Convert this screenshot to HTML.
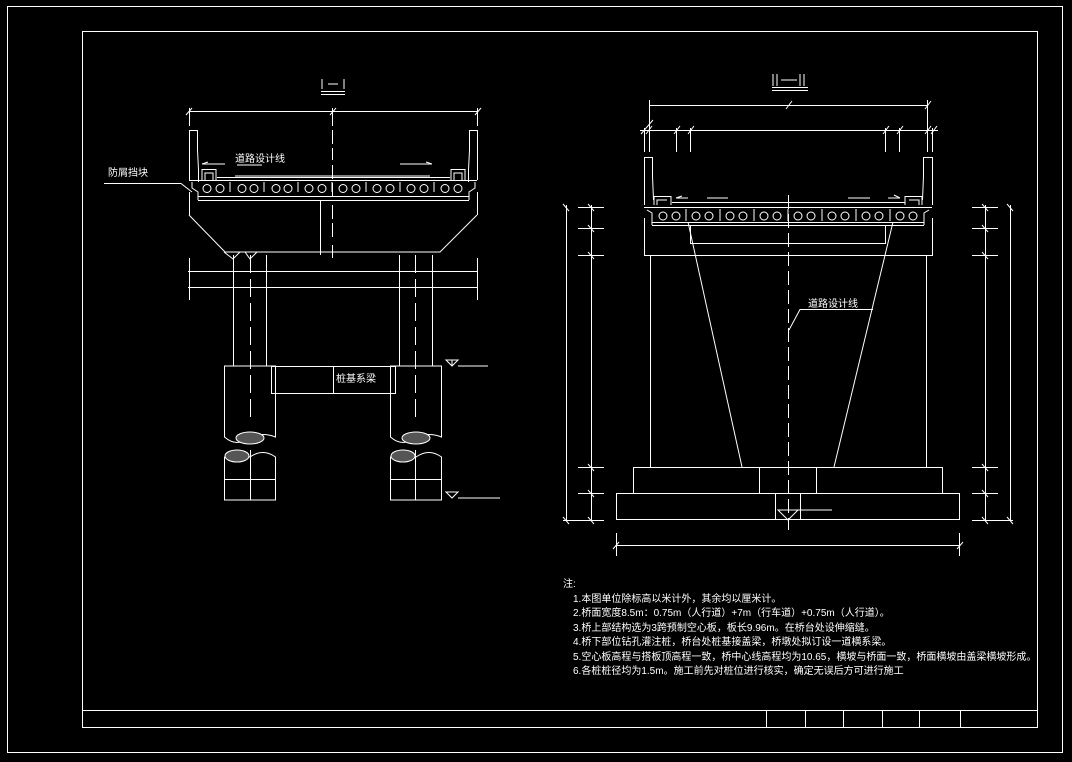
<!DOCTYPE html>
<html><head><meta charset="utf-8"><style>
html,body{margin:0;padding:0;background:#000;}
svg{display:block}
text{font-family:"Liberation Sans","Noto Sans CJK SC",sans-serif;fill:#fff;}
</style></head><body>
<svg width="1072" height="762" viewBox="0 0 1072 762" xmlns="http://www.w3.org/2000/svg">
<rect width="1072" height="762" fill="#000"/>
<g stroke="#fff" stroke-width="1" fill="none">
<rect x="7.5" y="6.5" width="1055" height="746"/>
<rect x="82.5" y="31.5" width="955" height="696"/>
<line x1="82" y1="710.5" x2="1037" y2="710.5"/>
<line x1="766.5" y1="710" x2="766.5" y2="727"/>
<line x1="805.5" y1="710" x2="805.5" y2="727"/>
<line x1="843.5" y1="710" x2="843.5" y2="727"/>
<line x1="882.5" y1="710" x2="882.5" y2="727"/>
<line x1="919.5" y1="710" x2="919.5" y2="727"/>
<line x1="960.5" y1="710" x2="960.5" y2="727"/>

<!-- ========== Section I-I ========== -->
<line x1="322" y1="79" x2="322" y2="89"/><line x1="344" y1="79" x2="344" y2="89"/><line x1="328" y1="84" x2="338" y2="84"/>
<line x1="321" y1="91.5" x2="345" y2="91.5"/><line x1="321" y1="94.5" x2="345" y2="94.5"/>
<line x1="189" y1="111.5" x2="478" y2="111.5"/>
<line x1="189.5" y1="108" x2="189.5" y2="126"/><line x1="477.5" y1="108" x2="477.5" y2="126"/>
<line x1="332.5" y1="108" x2="332.5" y2="126"/>
<line x1="186" y1="115" x2="192" y2="108"/><line x1="330" y1="115" x2="336" y2="108"/><line x1="475" y1="115" x2="481" y2="108"/>
<!-- parapets -->
<path d="M189.5 180 V130.5 H197.5 V150 L198.5 170 V182"/>
<path d="M477.5 180 V130.5 H469.5 V150 L468.5 170 V182"/>
<path d="M202 180 V169.5 H216 V180"/><path d="M205 180 V173 H213 V180"/>
<path d="M465 180 V169.5 H451 V180"/><path d="M462 180 V173 H454 V180"/>
<!-- deck -->
<line x1="189" y1="180.5" x2="477" y2="180.5"/>
<line x1="217" y1="177.5" x2="450" y2="177.5"/>
<line x1="235" y1="176" x2="430" y2="176"/>
<line x1="198" y1="200.5" x2="469" y2="200.5"/>
<line x1="198" y1="196.5" x2="469" y2="196.5"/>
<path d="M198 200 V192 L192 188 V182"/><path d="M469 200 V192 L475 188 V182"/>
<line x1="189.5" y1="192" x2="189.5" y2="215"/><line x1="477.5" y1="192" x2="477.5" y2="215"/>
<circle cx="207" cy="188.5" r="4"/><circle cx="220" cy="188.5" r="4"/><circle cx="242" cy="188.5" r="4"/><circle cx="254" cy="188.5" r="4"/>
<circle cx="276" cy="188.5" r="4"/><circle cx="288" cy="188.5" r="4"/><circle cx="309" cy="188.5" r="4"/><circle cx="322" cy="188.5" r="4"/>
<circle cx="343" cy="188.5" r="4"/><circle cx="356" cy="188.5" r="4"/><circle cx="377" cy="188.5" r="4"/><circle cx="390" cy="188.5" r="4"/>
<circle cx="411" cy="188.5" r="4"/><circle cx="424" cy="188.5" r="4"/><circle cx="445" cy="188.5" r="4"/><circle cx="458" cy="188.5" r="4"/>
<path d="M230 182 v10 M264 182 v10 M298 182 v10 M332 182 v10 M366 182 v10 M400 182 v10 M434 182 v10"/>
<!-- arrows -->
<path d="M202 164 L225 164 M202 164 l6 -2 M237 165 H262"/>
<path d="M400 164 H432 M432 164 l-6 -2"/>
<!-- centre line -->
<path d="M332.5 130 V160 M332.5 165 V200 M332.5 205 V240 M332.5 245 V258" stroke-dasharray="14 4"/>
<line x1="320.5" y1="200" x2="320.5" y2="255"/>
<!-- cap -->
<path d="M189 215 L225 252 H440 L477 215"/>
<path d="M224 252 L233 259 L240 252 M245 252 L250 259 L257 252"/>
<line x1="189.5" y1="258" x2="189.5" y2="300"/><line x1="477.5" y1="258" x2="477.5" y2="300"/>
<line x1="188" y1="271.5" x2="478" y2="271.5"/><line x1="188" y1="287.5" x2="478" y2="287.5"/>
<!-- columns -->
<path d="M233.5 255 V366 M266.5 255 V366 M399.5 255 V366 M432.5 255 V366"/>
<path d="M250.5 255 V420 M415.5 255 V420" stroke-dasharray="18 6"/>
<!-- piles -->
<path d="M224.5 366 V437 Q237 448 250 437 Q263 432 275.5 437 V366 Z"/>
<path d="M390.5 366 V437 Q403 448 416 437 Q429 432 441.5 437 V366 Z"/>
<rect x="271.5" y="366.5" width="124" height="27"/>
<line x1="275.5" y1="366" x2="275.5" y2="393"/><line x1="390.5" y1="366" x2="390.5" y2="393"/>
<line x1="333.5" y1="366" x2="333.5" y2="394"/>
<ellipse cx="250" cy="438" rx="14" ry="6" fill="#555"/>
<ellipse cx="416" cy="438" rx="14" ry="6" fill="#555"/>
<path d="M224.5 500 V457 Q237 450 250 457 Q263 448 275.5 457 V500 Z"/>
<path d="M390.5 500 V457 Q403 450 416 457 Q429 448 441.5 457 V500 Z"/>
<ellipse cx="237" cy="456" rx="12" ry="6" fill="#555"/>
<ellipse cx="403" cy="456" rx="12" ry="6" fill="#555"/>
<path d="M250.5 450 V500 M415.5 450 V500 M224 479.5 H276 M390 479.5 H442"/>
<path d="M446 360 H458 L452 366 Z M452 366 V360 M458 366 H488"/>
<path d="M446 492 H458 L452 498 Z M458 498 H500"/>
<path d="M104 183.5 H181 L192 192"/>

<!-- ========== Section II-II ========== -->
<line x1="773" y1="74" x2="773" y2="86"/><line x1="777" y1="74" x2="777" y2="86"/>
<line x1="800" y1="74" x2="800" y2="86"/><line x1="804" y1="74" x2="804" y2="86"/>
<line x1="781" y1="80" x2="797" y2="80"/>
<line x1="772" y1="87.5" x2="808" y2="87.5"/><line x1="772" y1="90.5" x2="808" y2="90.5"/>
<line x1="649" y1="105.5" x2="928" y2="105.5"/>
<line x1="649.5" y1="100" x2="649.5" y2="152"/><line x1="927.5" y1="100" x2="927.5" y2="152"/>
<path d="M786 109 l6 -8 M925 109 l6 -8"/>
<line x1="640" y1="130.5" x2="938" y2="130.5"/>
<path d="M644.5 128 V152 M676.5 128 V152 M690.5 128 V152 M885.5 128 V152 M899.5 128 V152 M932.5 128 V152"/>
<path d="M641 134 l12 -14 M646 134 l6 -8 M674 134 l6 -8 M688 134 l6 -8 M883 134 l6 -8 M897 134 l6 -8 M925 134 l6 -8 M931 134 l6 -8"/>
<!-- parapets -->
<path d="M644.5 205 V157.5 H652.5 V176 L653.5 200"/>
<path d="M932.5 205 V157.5 H923.5 V176 L922.5 200"/>
<path d="M654 205 V196.5 H671 V205 M657 205 V200 H667"/>
<path d="M922 205 V196.5 H905 V205 M919 205 V200 H909"/>
<line x1="644" y1="207.5" x2="932" y2="207.5"/>
<line x1="672" y1="202.5" x2="905" y2="202.5"/>
<line x1="652" y1="225.5" x2="924" y2="225.5"/>
<line x1="652" y1="222.5" x2="924" y2="222.5"/>
<path d="M652 225 V213 L647 210 M924 225 V213 L929 210"/>
<path d="M676 198 H688 M676 198 l6 -2 M707 198 H728 M848 198 H870 M888 198 H900 M900 198 l-6 -3"/>
<circle cx="663" cy="216" r="4"/><circle cx="676" cy="216" r="4"/><circle cx="696" cy="216" r="4"/><circle cx="709" cy="216" r="4"/>
<circle cx="730" cy="216" r="4"/><circle cx="743" cy="216" r="4"/><circle cx="764" cy="216" r="4"/><circle cx="777" cy="216" r="4"/>
<circle cx="798" cy="216" r="4"/><circle cx="811" cy="216" r="4"/><circle cx="832" cy="216" r="4"/><circle cx="845" cy="216" r="4"/>
<circle cx="866" cy="216" r="4"/><circle cx="879" cy="216" r="4"/><circle cx="900" cy="216" r="4"/><circle cx="913" cy="216" r="4"/>
<path d="M686 209 v12 M720 209 v12 M754 209 v12 M788 209 v12 M822 209 v12 M856 209 v12 M890 209 v12"/>
<!-- cap -->
<path d="M644.5 218 V255.5 H932.5 V218"/>
<rect x="690.5" y="225.5" width="195" height="18"/>
<line x1="650.5" y1="255" x2="650.5" y2="467"/><line x1="926.5" y1="255" x2="926.5" y2="467"/>
<line x1="688" y1="222" x2="742" y2="467"/><line x1="893" y1="222" x2="834" y2="467"/>
<path d="M788.5 195 V530" stroke-dasharray="14 5"/>
<path d="M789 330 L800 309.5 H873"/>
<!-- base -->
<rect x="633.5" y="467.5" width="309" height="26"/>
<path d="M759.5 467 V493 M816.5 467 V493"/>
<rect x="616.5" y="493.5" width="343" height="26"/>
<path d="M775.5 493 V520 M800.5 493 V520"/>
<path d="M778 510 H798 L788 520 Z M798 510 H832"/>
<line x1="616" y1="545.5" x2="960" y2="545.5"/>
<path d="M616.5 533 V556 M959.5 533 V556 M613 549 l6 -7 M957 549 l6 -7"/>
<!-- side dims -->
<path d="M566.5 205 V521 M591.5 205 V521 M578 207.5 H604 M578 228.5 H604 M578 255.5 H604 M578 467.5 H604 M578 493.5 H604 M563 520.5 H604"/>
<path d="M563 204 l6 7 M588 204 l6 7 M588 225 l6 7 M588 252 l6 7 M588 464 l6 7 M588 490 l6 7 M563 517 l6 7 M588 517 l6 7"/>
<path d="M985.5 205 V521 M1010.5 205 V521 M972 207.5 H998 M972 228.5 H998 M972 255.5 H998 M972 467.5 H998 M972 493.5 H998 M972 520.5 H1013"/>
<path d="M982 204 l6 7 M1007 204 l6 7 M982 225 l6 7 M982 252 l6 7 M982 464 l6 7 M982 490 l6 7 M982 517 l6 7 M1007 517 l6 7"/>
</g>
<text x="108" y="176" font-size="10">防屑挡块</text>
<text x="235" y="162" font-size="10">道路设计线</text>
<text x="336" y="382" font-size="10">桩基系梁</text>
<text x="808" y="307" font-size="10">道路设计线</text>
<g font-size="10">
<text x="563" y="587">注:</text>
<text x="573" y="602">1.本图单位除标高以米计外，其余均以厘米计。</text>
<text x="573" y="616">2.桥面宽度8.5m：0.75m（人行道）+7m（行车道）+0.75m（人行道）。</text>
<text x="573" y="631">3.桥上部结构选为3跨预制空心板，板长9.96m。在桥台处设伸缩缝。</text>
<text x="573" y="645">4.桥下部位钻孔灌注桩，桥台处桩基接盖梁，桥墩处拟订设一道横系梁。</text>
<text x="573" y="660">5.空心板高程与搭板顶高程一致，桥中心线高程均为10.65，横坡与桥面一致，桥面横坡由盖梁横坡形成。</text>
<text x="573" y="674">6.各桩桩径均为1.5m。施工前先对桩位进行核实，确定无误后方可进行施工</text>
</g>
</svg>
</body></html>
